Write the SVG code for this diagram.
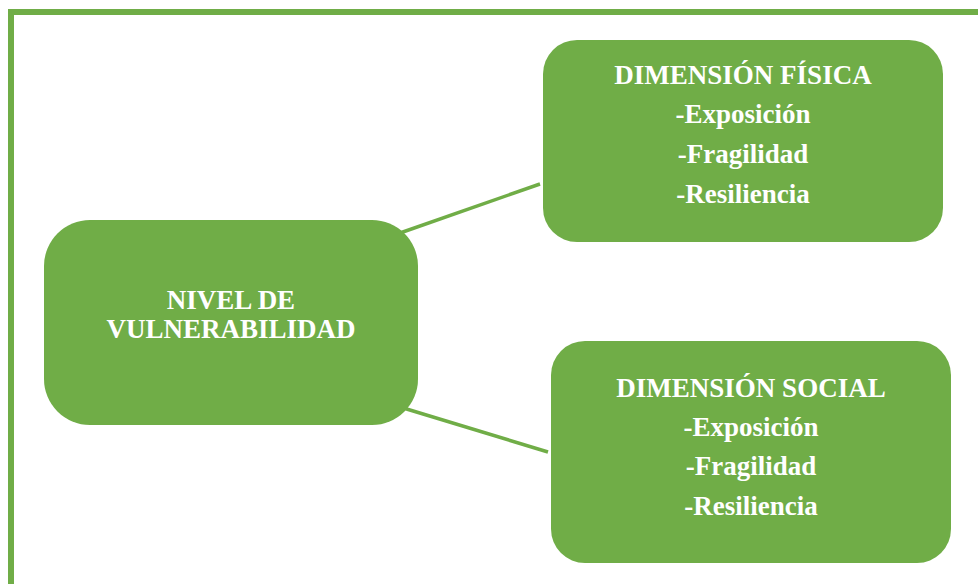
<svg xmlns="http://www.w3.org/2000/svg" width="978" height="584" viewBox="0 0 978 584">
  <style>
    .box { fill: #70AD47; }
    .frame { fill: none; stroke: #70AD47; stroke-width: 6; }
    .link { stroke: #70AD47; stroke-width: 3.5; fill: none; }
    .lbl { font-family: "Liberation Serif", "Times New Roman", serif; font-weight: bold; font-size: 27px; fill: #ffffff; text-anchor: middle; }
  </style>
  <rect id="frame" class="frame" x="11" y="12" width="1000" height="600"/>
  <g id="connectors">
    <line class="link" x1="400" y1="233" x2="540" y2="184"/>
    <line class="link" x1="400" y1="407" x2="548" y2="452"/>
  </g>
  <g id="nivel">
    <rect class="box" x="44" y="220" width="374" height="205" rx="46" ry="46"/>
    <text class="lbl" x="231" y="309">NIVEL DE</text>
    <text class="lbl" x="231" y="338">VULNERABILIDAD</text>
  </g>
  <g id="fisica">
    <rect class="box" x="543" y="40" width="400" height="202" rx="34" ry="34"/>
    <text class="lbl" x="743" y="84">DIMENSIÓN FÍSICA</text>
    <text class="lbl" x="743" y="123">-Exposición</text>
    <text class="lbl" x="743" y="163">-Fragilidad</text>
    <text class="lbl" x="743" y="203">-Resiliencia</text>
  </g>
  <g id="social">
    <rect class="box" x="551" y="341" width="400" height="222" rx="34" ry="34"/>
    <text class="lbl" x="751" y="396.5">DIMENSIÓN SOCIAL</text>
    <text class="lbl" x="751" y="436">-Exposición</text>
    <text class="lbl" x="751" y="475">-Fragilidad</text>
    <text class="lbl" x="751" y="514.5">-Resiliencia</text>
  </g>
</svg>
